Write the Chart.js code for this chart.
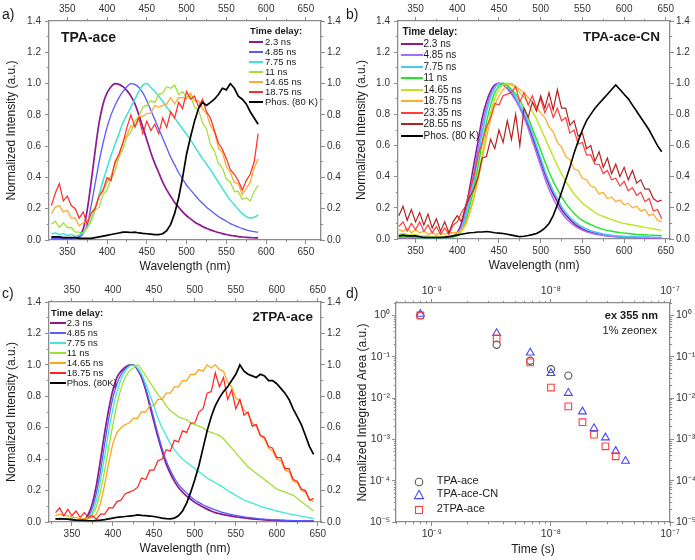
<!DOCTYPE html>
<html><head><meta charset="utf-8"><title>Time-resolved spectra</title>
<script src="https://cdn.jsdelivr.net/npm/chart.js@4.4.1/dist/chart.umd.min.js"></script>
<style>
html,body{margin:0;padding:0;background:#fff;}
#wrap{position:relative;width:695px;height:560px;overflow:hidden;font-family:"Liberation Sans",Arial,Helvetica,sans-serif;color:#1a1a1a;}
#wrap canvas{position:absolute;}
.tx{position:absolute;white-space:nowrap;line-height:12px;}
.sw{position:absolute;}
</style></head><body>
<div id="wrap">
<canvas id="ca" width="350" height="280" style="left:0;top:0"></canvas>
<canvas id="cb" width="350" height="280" style="left:345px;top:0"></canvas>
<canvas id="cc" width="350" height="280" style="left:0;top:280px"></canvas>
<canvas id="cd" width="350" height="280" style="left:345px;top:280px"></canvas>
<div class="tx" style="left:2px;top:6px;font-size:14px;line-height:16px">a)</div>
<div class="tx" style="left:346px;top:6px;font-size:14px;line-height:16px">b)</div>
<div class="tx" style="left:2px;top:285px;font-size:14px;line-height:16px">c)</div>
<div class="tx" style="left:346px;top:285px;font-size:14px;line-height:16px">d)</div>
<div class="tx" style="left:61px;top:29px;font-size:14px;line-height:16px;font-weight:bold">TPA-ace</div>
<div class="tx" style="right:35px;top:29px;font-size:13.5px;line-height:16px;font-weight:bold">TPA-ace-CN</div>
<div class="tx" style="right:382px;top:309px;font-size:13.5px;line-height:16px;font-weight:bold">2TPA-ace</div>
<div class="tx" style="right:37px;top:309px;font-size:11px;line-height:12px;font-weight:bold">ex 355 nm</div>
<div class="tx" style="right:38px;top:324px;font-size:11px;line-height:12px">1% zeonex</div>
</div>
<script>
// ---------- DATA ----------
const WL = [330,335,340,345,350,355,360,365,370,375,380,385,390,395,400,405,410,415,420,425,430,435,440,445,450,455,460,465,470,475,480,485,490,495,500,505,510,515,520,525,530,535,540,545,550,555,560,565,570,575,580,585,590,595,600,605,610,615,620,625,630,635,640,645];

// Panel a: TPA-ace (330-590 nm)
const A_LABELS = ['2.3 ns','4.85 ns','7.75 ns','11 ns','14.65 ns','18.75 ns','Phos. (80 K)'];
const A_2_3 = [0.01,0.01,0.01,0.01,0.01,0.01,0.012,0.025,0.07,0.19,0.37,0.57,0.75,0.87,0.94,0.98,1.0,0.995,0.98,0.955,0.92,0.87,0.8,0.72,0.64,0.56,0.49,0.43,0.37,0.32,0.28,0.24,0.21,0.18,0.155,0.135,0.115,0.1,0.087,0.075,0.065,0.056,0.048,0.041,0.035,0.03,0.026,0.022,0.019,0.017,0.015,0.014,0.013];
const A_4_85 = [0.01,0.01,0.01,0.01,0.01,0.01,0.01,0.015,0.04,0.1,0.22,0.36,0.5,0.62,0.72,0.8,0.86,0.91,0.95,0.98,1.0,0.995,0.975,0.94,0.89,0.83,0.77,0.71,0.65,0.59,0.53,0.48,0.43,0.39,0.35,0.32,0.29,0.26,0.235,0.21,0.19,0.17,0.15,0.135,0.12,0.105,0.094,0.083,0.073,0.065,0.058,0.053,0.05];
const A_7_75 = [0.04,0.045,0.035,0.04,0.03,0.035,0.025,0.03,0.05,0.08,0.13,0.2,0.29,0.38,0.46,0.54,0.61,0.68,0.75,0.8,0.85,0.9,0.95,0.99,1.0,0.975,0.95,0.92,0.885,0.85,0.815,0.78,0.745,0.71,0.675,0.64,0.6,0.56,0.52,0.485,0.45,0.41,0.37,0.33,0.29,0.255,0.225,0.195,0.17,0.15,0.14,0.145,0.16];
const A_11 = [0.1,0.12,0.08,0.11,0.08,0.08,0.05,0.05,0.04,0.08,0.12,0.19,0.21,0.29,0.32,0.39,0.44,0.53,0.58,0.66,0.69,0.76,0.79,0.85,0.86,0.89,0.88,0.93,0.94,0.98,0.97,0.99,0.93,0.95,0.91,0.92,0.85,0.83,0.75,0.71,0.61,0.57,0.49,0.46,0.39,0.37,0.31,0.31,0.26,0.27,0.25,0.31,0.35];
const A_14_65 = [0.17,0.21,0.22,0.18,0.19,0.14,0.14,0.09,0.11,0.12,0.17,0.21,0.28,0.31,0.37,0.41,0.49,0.54,0.63,0.67,0.73,0.73,0.79,0.79,0.81,0.81,0.86,0.85,0.86,0.87,0.91,0.87,0.91,0.91,0.9,0.94,0.89,0.89,0.84,0.81,0.73,0.69,0.59,0.56,0.47,0.43,0.37,0.36,0.29,0.33,0.37,0.46,0.52];
const A_18_75 = [0.22,0.3,0.36,0.25,0.28,0.22,0.2,0.14,0.18,0.1,0.17,0.2,0.28,0.32,0.4,0.38,0.5,0.55,0.62,0.72,0.8,0.72,0.78,0.68,0.76,0.7,0.74,0.68,0.78,0.72,0.82,0.78,0.88,0.84,0.95,0.9,0.92,0.85,0.9,0.82,0.78,0.7,0.62,0.58,0.52,0.45,0.42,0.38,0.32,0.38,0.42,0.5,0.68];
const A_PHOS = [0.02,0.02,0.02,0.015,0.015,0.015,0.015,0.01,0.01,0.01,0.01,0.015,0.02,0.025,0.03,0.035,0.04,0.045,0.05,0.05,0.048,0.05,0.045,0.042,0.04,0.038,0.035,0.035,0.04,0.06,0.1,0.17,0.27,0.4,0.55,0.66,0.76,0.84,0.88,0.86,0.88,0.9,0.93,0.97,0.96,1.0,0.97,0.92,0.9,0.87,0.82,0.78,0.74];

// Panel b: TPA-ace-CN
const B_LABELS = ['2.3 ns','4.85 ns','7.75 ns','11 ns','14.65 ns','18.75 ns','23.35 ns','28.55 ns','Phos. (80 K)'];
const B_2_3 = [0.01,0.01,0.01,0.01,0.01,0.01,0.01,0.01,0.01,0.01,0.01,0.01,0.01,0.015,0.04,0.1,0.2,0.33,0.48,0.63,0.78,0.88,0.95,0.99,1.0,0.99,0.97,0.935,0.9,0.85,0.8,0.73,0.66,0.58,0.5,0.42,0.35,0.29,0.24,0.19,0.155,0.125,0.1,0.08,0.065,0.052,0.043,0.036,0.03,0.025,0.021,0.018,0.016,0.014,0.013,0.012,0.011,0.01,0.01,0.009,0.009,0.008,0.008,0.008];
const B_4_85 = [0.01,0.01,0.01,0.01,0.01,0.01,0.01,0.01,0.01,0.01,0.01,0.01,0.01,0.012,0.03,0.08,0.17,0.29,0.43,0.58,0.73,0.85,0.93,0.98,1.0,0.99,0.965,0.93,0.89,0.84,0.78,0.71,0.63,0.55,0.47,0.39,0.32,0.26,0.21,0.17,0.135,0.11,0.088,0.07,0.057,0.046,0.038,0.032,0.027,0.023,0.02,0.017,0.015,0.013,0.012,0.011,0.01,0.009,0.009,0.008,0.008,0.008,0.007,0.007];
const B_7_75 = [0.015,0.015,0.01,0.015,0.01,0.01,0.01,0.01,0.01,0.01,0.01,0.01,0.01,0.015,0.025,0.06,0.14,0.25,0.38,0.53,0.68,0.81,0.91,0.97,0.995,1.0,0.98,0.95,0.91,0.86,0.81,0.75,0.68,0.6,0.52,0.44,0.37,0.31,0.26,0.21,0.17,0.14,0.115,0.094,0.077,0.064,0.053,0.045,0.038,0.032,0.028,0.024,0.021,0.019,0.017,0.016,0.015,0.014,0.013,0.012,0.012,0.011,0.011,0.01];
const B_11 = [0.015,0.02,0.015,0.015,0.01,0.01,0.01,0.01,0.01,0.01,0.01,0.01,0.01,0.015,0.02,0.05,0.11,0.21,0.33,0.47,0.62,0.75,0.86,0.94,0.98,1.0,0.99,0.96,0.93,0.89,0.84,0.78,0.71,0.64,0.57,0.5,0.43,0.37,0.32,0.27,0.23,0.195,0.165,0.14,0.12,0.105,0.092,0.08,0.07,0.062,0.055,0.05,0.045,0.041,0.038,0.035,0.032,0.03,0.028,0.026,0.025,0.024,0.023,0.022];
const B_14_65 = [0.03,0.035,0.03,0.025,0.03,0.02,0.02,0.02,0.015,0.02,0.015,0.015,0.02,0.02,0.03,0.05,0.09,0.17,0.28,0.41,0.55,0.69,0.81,0.9,0.96,0.99,1.0,0.99,0.97,0.94,0.91,0.87,0.82,0.77,0.71,0.65,0.59,0.53,0.47,0.42,0.37,0.33,0.29,0.26,0.23,0.21,0.19,0.17,0.155,0.145,0.135,0.125,0.115,0.107,0.1,0.095,0.09,0.085,0.08,0.075,0.07,0.065,0.06,0.055];
const B_18_75 = [0.06,0.05,0.07,0.04,0.06,0.04,0.05,0.03,0.04,0.03,0.04,0.03,0.04,0.04,0.04,0.06,0.1,0.17,0.26,0.38,0.52,0.65,0.77,0.86,0.92,0.96,0.99,1.0,0.98,0.96,0.94,0.91,0.88,0.85,0.81,0.78,0.72,0.69,0.62,0.59,0.53,0.51,0.45,0.44,0.39,0.38,0.34,0.33,0.29,0.3,0.26,0.27,0.24,0.25,0.22,0.23,0.2,0.21,0.18,0.19,0.15,0.16,0.12,0.11];
const B_23_35 = [0.08,0.11,0.05,0.1,0.06,0.11,0.05,0.09,0.04,0.08,0.03,0.07,0.03,0.09,0.11,0.17,0.21,0.31,0.4,0.54,0.62,0.72,0.78,0.87,0.86,0.92,0.93,0.94,0.98,0.88,0.94,0.86,0.92,0.84,0.9,0.81,0.87,0.78,0.84,0.76,0.78,0.68,0.7,0.61,0.62,0.54,0.54,0.48,0.48,0.42,0.44,0.38,0.39,0.34,0.37,0.31,0.33,0.28,0.3,0.24,0.26,0.18,0.19,0.13];
const B_28_55 = [0.15,0.21,0.12,0.19,0.11,0.17,0.09,0.16,0.07,0.13,0.05,0.11,0.04,0.11,0.15,0.11,0.21,0.27,0.32,0.4,0.52,0.53,0.64,0.58,0.7,0.62,0.76,0.64,0.8,0.6,0.84,0.78,0.88,0.82,0.92,0.84,0.94,0.83,0.96,0.84,0.84,0.73,0.76,0.66,0.68,0.58,0.6,0.5,0.56,0.46,0.52,0.42,0.48,0.4,0.46,0.38,0.44,0.36,0.38,0.32,0.32,0.26,0.24,0.25];
const B_PHOS = [0.02,0.025,0.02,0.02,0.02,0.015,0.01,0.01,0.01,0.01,0.01,0.012,0.015,0.02,0.025,0.03,0.035,0.04,0.042,0.045,0.045,0.048,0.045,0.04,0.038,0.035,0.03,0.025,0.02,0.015,0.018,0.022,0.028,0.035,0.05,0.07,0.1,0.15,0.22,0.3,0.38,0.46,0.55,0.63,0.7,0.76,0.8,0.84,0.87,0.9,0.93,0.96,0.99,0.96,0.93,0.9,0.86,0.82,0.78,0.74,0.7,0.65,0.6,0.56];

// Panel c: 2TPA-ace
const C_LABELS = ['2.3 ns','4.85 ns','7.75 ns','11 ns','14.65 ns','18.75 ns','Phos. (80K)'];
const C_2_3 = [0.02,0.02,0.02,0.018,0.015,0.012,0.012,0.015,0.05,0.12,0.24,0.4,0.57,0.72,0.84,0.92,0.96,0.985,0.998,1.0,0.97,0.92,0.84,0.74,0.64,0.54,0.45,0.37,0.31,0.26,0.22,0.19,0.165,0.145,0.125,0.11,0.095,0.082,0.07,0.06,0.053,0.047,0.042,0.037,0.033,0.029,0.026,0.023,0.02,0.018,0.016,0.014,0.012,0.011,0.01,0.009,0.008,0.007,0.006,0.006,0.005,0.005,0.005,0.005];
const C_4_85 = [0.02,0.02,0.02,0.018,0.015,0.012,0.012,0.013,0.035,0.09,0.19,0.33,0.5,0.66,0.79,0.88,0.94,0.975,0.995,1.0,0.975,0.93,0.85,0.76,0.66,0.56,0.47,0.39,0.33,0.28,0.24,0.21,0.185,0.16,0.14,0.125,0.11,0.098,0.087,0.077,0.068,0.06,0.053,0.047,0.042,0.037,0.033,0.029,0.026,0.023,0.02,0.018,0.016,0.014,0.013,0.012,0.011,0.01,0.009,0.008,0.008,0.007,0.007,0.007];
const C_7_75 = [0.02,0.02,0.02,0.02,0.015,0.015,0.015,0.015,0.025,0.06,0.14,0.27,0.42,0.58,0.72,0.83,0.91,0.96,0.99,1.0,0.98,0.94,0.88,0.81,0.74,0.66,0.6,0.55,0.5,0.46,0.43,0.4,0.38,0.36,0.34,0.32,0.3,0.28,0.265,0.25,0.235,0.22,0.2,0.185,0.17,0.155,0.14,0.13,0.12,0.11,0.1,0.092,0.085,0.078,0.07,0.064,0.058,0.052,0.047,0.042,0.037,0.032,0.027,0.022];
const C_11 = [0.02,0.025,0.02,0.02,0.02,0.015,0.015,0.02,0.03,0.05,0.1,0.2,0.33,0.48,0.62,0.75,0.85,0.92,0.96,0.98,1.0,0.97,0.93,0.89,0.85,0.81,0.78,0.74,0.71,0.69,0.67,0.66,0.65,0.63,0.62,0.61,0.6,0.58,0.57,0.56,0.55,0.53,0.5,0.47,0.44,0.41,0.38,0.35,0.33,0.31,0.29,0.27,0.25,0.23,0.21,0.2,0.19,0.18,0.17,0.15,0.13,0.11,0.09,0.07];
const C_14_65 = [0.04,0.05,0.04,0.04,0.03,0.03,0.02,0.02,0.02,0.03,0.05,0.12,0.24,0.38,0.5,0.57,0.6,0.62,0.63,0.66,0.66,0.7,0.7,0.74,0.74,0.78,0.78,0.82,0.82,0.86,0.86,0.9,0.9,0.94,0.94,0.97,0.96,1.0,0.98,1.0,0.97,0.96,0.89,0.86,0.79,0.77,0.71,0.69,0.63,0.61,0.55,0.53,0.47,0.45,0.4,0.39,0.33,0.32,0.26,0.25,0.2,0.19,0.14,0.13];
const C_18_75 = [0.06,0.09,0.04,0.08,0.04,0.07,0.03,0.06,0.03,0.04,0.02,0.05,0.05,0.09,0.09,0.13,0.14,0.18,0.19,0.2,0.22,0.28,0.27,0.33,0.33,0.39,0.4,0.46,0.45,0.52,0.51,0.58,0.57,0.63,0.63,0.7,0.72,0.82,0.83,0.95,0.86,0.92,0.78,0.84,0.72,0.78,0.68,0.7,0.61,0.62,0.55,0.54,0.48,0.47,0.41,0.41,0.34,0.34,0.27,0.26,0.21,0.2,0.14,0.15];
const C_PHOS = [0.02,0.02,0.02,0.018,0.015,0.012,0.01,0.01,0.008,0.008,0.01,0.012,0.015,0.02,0.025,0.03,0.032,0.035,0.038,0.04,0.045,0.042,0.04,0.038,0.035,0.03,0.025,0.022,0.02,0.025,0.04,0.07,0.12,0.19,0.27,0.36,0.47,0.58,0.67,0.74,0.79,0.83,0.86,0.9,0.94,1.0,0.96,0.94,0.93,0.92,0.94,0.93,0.9,0.9,0.88,0.85,0.82,0.78,0.72,0.67,0.62,0.55,0.48,0.43];

// Panel d: decay of integrated area
const D_LABELS = ['TPA-ace','TPA-ace-CN','2TPA-ace'];
const D_T_ACE = [8.0e-10,3.5e-9,6.7e-9,1.0e-8,1.4e-8];
const D_ACE = [1.0,0.195,0.08,0.05,0.035];
const D_T_CN = [8.0e-10,3.5e-9,6.7e-9,1.0e-8,1.4e-8,1.84e-8,2.3e-8,2.87e-8,3.5e-8,4.23e-8];
const D_CN = [1.08,0.37,0.125,0.04,0.0132,0.0047,0.00185,0.0011,0.00052,0.0003];
const D_T_2TPA = [8.0e-10,3.5e-9,6.7e-9,1.0e-8,1.4e-8,1.84e-8,2.3e-8,2.87e-8,3.5e-8];
const D_2TPA = [1.0,0.28,0.073,0.018,0.0063,0.0026,0.0013,0.00068,0.00039];
const D_X_MAJOR = [1e-9,1e-8,1e-7];
const D_Y_MAJOR = [1e-5,1e-4,1e-3,1e-2,1e-1,1];

// ---------- STYLES ----------
const A_COLORS = ['#8B1A8B','#5A5AFF','#3FE3D2','#A3E03C','#FFAA33','#FF2A2A','#000000'];
const A_WIDTHS = [1.7,1.3,1.5,1.3,1.3,1.2,1.7];
const B_COLORS = ['#8B1A8B','#A56BFF','#4CC3FF','#22E622','#BDE51C','#FFAE30','#FF3B3B','#B22222','#000000'];
const B_WIDTHS = [1.6,1.5,1.6,1.4,1.4,1.3,1.2,1.2,1.6];
const C_COLORS = ['#8B1A8B','#5A5AFF','#3FE8D8','#A0E034','#FFA51A','#FF2020','#000000'];
const C_WIDTHS = [1.7,1.3,1.3,1.3,1.3,1.2,1.7];
const D_COLORS = ['#555555','#4545FF','#FF4040'];

const FF = '"Liberation Sans", Arial, Helvetica, sans-serif';
Chart.defaults.font.family = FF;
const AX = '#8c8c8c';
const TICK_COLOR = '#333';

const isH = p => p === 'top' || p === 'bottom';
function sizer(pos, px){ return s => { if (isH(pos)) s.height = px; else s.width = px; }; }

function linMajor(pos, min, max, step, px, fmt, pad, title, tpad){
  return {
    type:'linear', position:pos, min:min, max:max, weight:10,
    afterFit: sizer(pos, px),
    ticks:{stepSize:step, includeBounds:false, autoSkip:false, maxRotation:0, minRotation:0,
      padding:pad, color:TICK_COLOR, font:{size:10}, callback:fmt},
    grid:{display:true, drawOnChartArea:false, drawTicks:true, tickLength:4, tickColor:AX, tickWidth:1},
    border:{display:true, color:AX, width:1.3},
    title: title ? {display:true, text:title, color:'#1a1a1a', font:{size:12}, padding:tpad} : {display:false}
  };
}
function linMinor(pos, min, max, step){
  return {
    type:'linear', position:pos, min:min, max:max, weight:0,
    afterFit: sizer(pos, 0),
    ticks:{stepSize:step, includeBounds:false, autoSkip:false, display:false},
    grid:{display:true, drawOnChartArea:false, drawTicks:true, tickLength:2.2, tickColor:AX, tickWidth:1},
    border:{display:false}
  };
}

function specChart(id, cfg, labels, colors, widths, series, noisy){
  const datasets = series.map((ys, i) => ({
    label: labels[i],
    data: ys.map((y, k) => ({x: WL[k], y: y})),
    borderColor: colors[i], backgroundColor: colors[i],
    borderWidth: widths[i], pointRadius: 0, fill: false,
    tension: noisy[i] ? 0 : 0.35, cubicInterpolationMode: noisy[i] ? 'default' : 'monotone',
    order: series.length - 1 - i,
    xAxisID: 'x', yAxisID: 'y'
  }));
  const fx = v => String(v);
  const fy = v => v.toFixed(1);
  const scales = {
    x: linMajor('bottom', cfg.xmin, cfg.xmax, 50, cfg.B, fx, 2, 'Wavelength (nm)', {bottom: cfg.xtp, top:0}),
    xm: linMinor('bottom', cfg.xmin, cfg.xmax, 25),
    xt: linMajor('top', cfg.xmin, cfg.xmax, 50, cfg.T, fx, 2),
    xtm: linMinor('top', cfg.xmin, cfg.xmax, 25),
    y: linMajor('left', 0, 1.4, 0.2, cfg.L, fy, 4, 'Normalized Intensity (a.u.)', {top: cfg.ytp, bottom:0}),
    ym: linMinor('left', 0, 1.4, 0.1),
    yr: linMajor('right', 0, 1.4, 0.2, cfg.R, fy, 2),
    yrm: linMinor('right', 0, 1.4, 0.1)
  };
  new Chart(document.getElementById(id), {
    type: 'line', data: {datasets: datasets},
    options: {animation:false, responsive:false, events:[], layout:{padding:0},
      plugins:{legend:{display:false}, tooltip:{enabled:false}}, scales: scales}
  });
}

specChart('ca', {xmin:327, xmax:669, L:49, R:29, T:21, B:40, xtp:6, ytp:4},
  A_LABELS, A_COLORS, A_WIDTHS, [A_2_3, A_4_85, A_7_75, A_11, A_14_65, A_18_75, A_PHOS],
  [false,false,false,true,true,true,true]);
specChart('cb', {xmin:329, xmax:655, L:53, R:25, T:21, B:41, xtp:7, ytp:9},
  B_LABELS, B_COLORS, B_WIDTHS, [B_2_3, B_4_85, B_7_75, B_11, B_14_65, B_18_75, B_23_35, B_28_55, B_PHOS],
  [false,false,false,false,false,true,true,true,true]);
specChart('cc', {xmin:322, xmax:654, L:49, R:29, T:22, B:38, xtp:4, ytp:4},
  C_LABELS, C_COLORS, C_WIDTHS, [C_2_3, C_4_85, C_7_75, C_11, C_14_65, C_18_75, C_PHOS],
  [false,false,false,false,true,true,true]);

// ---------- panel d (log-log) ----------
const SUP = {'-':'\u207B','0':'\u2070','1':'\u00B9','2':'\u00B2','3':'\u00B3','4':'\u2074','5':'\u2075','6':'\u2076','7':'\u2077','8':'\u2078','9':'\u2079'};
function pow10(v){ const e = Math.round(Math.log10(v)); return '10' + String(e).split('').map(c => SUP[c]).join(''); }
function minorDecades(lo, hi, first, last){
  const out = [];
  for (let e = lo; e <= hi; e++) for (let m = 1; m <= 9; m++) {
    const v = m * Math.pow(10, e);
    if (v >= first * 0.999 && v <= last * 1.001) out.push(v);
  }
  return out;
}
const D_X_MINOR = minorDecades(-10, -7, 5e-10, 1e-7);
const D_Y_MINOR = minorDecades(-5, 0, 1e-5, 2);

function logMajor(pos, min, max, px, majors, pad, title, tpad){
  return {
    type:'logarithmic', position:pos, min:min, max:max, weight:10,
    afterFit: sizer(pos, px),
    afterBuildTicks: s => { s.ticks = majors.map(v => ({value:v, major:true})); },
    ticks:{autoSkip:false, maxRotation:0, minRotation:0, padding:pad, color:TICK_COLOR, font:{size:10.5}, callback: v => pow10(v)},
    grid:{display:true, drawOnChartArea:false, drawTicks:true, tickLength:4, tickColor:AX, tickWidth:1},
    border:{display:true, color:AX, width:1.3},
    title: title ? {display:true, text:title, color:'#1a1a1a', font:{size:12}, padding:tpad} : {display:false}
  };
}
function logMinor(pos, min, max, minors){
  return {
    type:'logarithmic', position:pos, min:min, max:max, weight:0,
    afterFit: sizer(pos, 0),
    afterBuildTicks: s => { s.ticks = minors.map(v => ({value:v})); },
    ticks:{autoSkip:false, display:false},
    grid:{display:true, drawOnChartArea:false, drawTicks:true, tickLength:2.2, tickColor:AX, tickWidth:1},
    border:{display:false}
  };
}
function pairs(xs, ys){ return ys.map((y, i) => ({x: xs[i], y: y})); }

new Chart(document.getElementById('cd'), {
  type: 'scatter',
  data: {datasets: [
    {label:D_LABELS[0], data:pairs(D_T_ACE, D_ACE), pointStyle:'circle', pointRadius:3.6, pointBorderWidth:1.1,
     borderColor:D_COLORS[0], backgroundColor:'rgba(0,0,0,0)', order:2, xAxisID:'x', yAxisID:'y'},
    {label:D_LABELS[1], data:pairs(D_T_CN, D_CN), pointStyle:'triangle', pointRadius:4.5, pointBorderWidth:1.1,
     borderColor:D_COLORS[1], backgroundColor:'rgba(0,0,0,0)', order:1, xAxisID:'x', yAxisID:'y'},
    {label:D_LABELS[2], data:pairs(D_T_2TPA, D_2TPA), pointStyle:'rect', pointRadius:4.7, pointBorderWidth:1.1,
     borderColor:D_COLORS[2], backgroundColor:'rgba(0,0,0,0)', order:0, xAxisID:'x', yAxisID:'y'}
  ]},
  options: {animation:false, responsive:false, events:[], layout:{padding:0},
    plugins:{legend:{display:false}, tooltip:{enabled:false}},
    scales: {
      x: logMajor('bottom', 5e-10, 1e-7, 38, D_X_MAJOR, 2, 'Time (s)', {bottom:3, top:0}),
      xm: logMinor('bottom', 5e-10, 1e-7, D_X_MINOR),
      xt: logMajor('top', 5e-10, 1e-7, 23, D_X_MAJOR, 2),
      xtm: logMinor('top', 5e-10, 1e-7, D_X_MINOR),
      y: logMajor('left', 1e-5, 2, 51, D_Y_MAJOR, 2, 'Normalized Integrated Area (a.u.)', {top:10, bottom:0}),
      ym: logMinor('left', 1e-5, 2, D_Y_MINOR),
      yr: logMajor('right', 1e-5, 2, 25, D_Y_MAJOR, 2),
      yrm: logMinor('right', 1e-5, 2, D_Y_MINOR)
    }}
});

// ---------- HTML legends ----------
const wrap = document.getElementById('wrap');
function addText(txt, left, cy, fs, bold){
  const d = document.createElement('div');
  d.className = 'tx';
  d.style.left = left + 'px'; d.style.top = (cy - 6) + 'px';
  d.style.fontSize = fs + 'px';
  if (bold) d.style.fontWeight = 'bold';
  d.textContent = txt;
  wrap.appendChild(d);
}
function lineLegend(cfg, labels, colors){
  addText('Time delay:', cfg.tx, cfg.ty, cfg.fs, true);
  labels.forEach((lab, i) => {
    const cy = cfg.y0 + i * cfg.dy;
    const s = document.createElement('div');
    s.className = 'sw';
    const w = cfg.lh;
    s.style.cssText = 'left:' + cfg.lx + 'px;top:' + (cy - w / 2) + 'px;width:' + cfg.lw + 'px;height:' + w + 'px;background:' + colors[i];
    wrap.appendChild(s);
    addText(lab, cfg.x, cy, cfg.fs, false);
  });
}
lineLegend({tx:250, ty:31, lx:249, lw:14, lh:2, x:265, y0:41.7, dy:10.1, fs:9.5}, A_LABELS, A_COLORS);
lineLegend({tx:402.5, ty:32.3, lx:400.7, lw:22, lh:2, x:423.5, y0:44, dy:11.45, fs:10}, B_LABELS, B_COLORS);
lineLegend({tx:51, ty:313.3, lx:50, lw:15.7, lh:2, x:66.7, y0:322.7, dy:10.1, fs:9.5}, C_LABELS, C_COLORS);

// panel d legend
const D_SHAPES = ['<circle cx="6" cy="6" r="3.8" fill="none" stroke="' + D_COLORS[0] + '" stroke-width="1.1"/>',
                  '<polygon points="6,1.3 10.5,9.6 1.5,9.6" fill="none" stroke="' + D_COLORS[1] + '" stroke-width="1.1"/>',
                  '<rect x="2.5" y="2.5" width="7" height="7" fill="none" stroke="' + D_COLORS[2] + '" stroke-width="1.1"/>'];
const D_LEG_Y = [480, 493.3, 507.7];
D_LABELS.forEach((lab, i) => {
  const m = document.createElement('div');
  m.className = 'sw';
  m.style.cssText = 'left:413px;top:' + (D_LEG_Y[i] - 6) + 'px;width:12px;height:12px';
  m.innerHTML = '<svg width="12" height="12" xmlns="http://www.w3.org/2000/svg">' + D_SHAPES[i] + '</svg>';
  wrap.appendChild(m);
  addText(lab, 436.7, D_LEG_Y[i], 11, false);
});
</script>
</body></html>
